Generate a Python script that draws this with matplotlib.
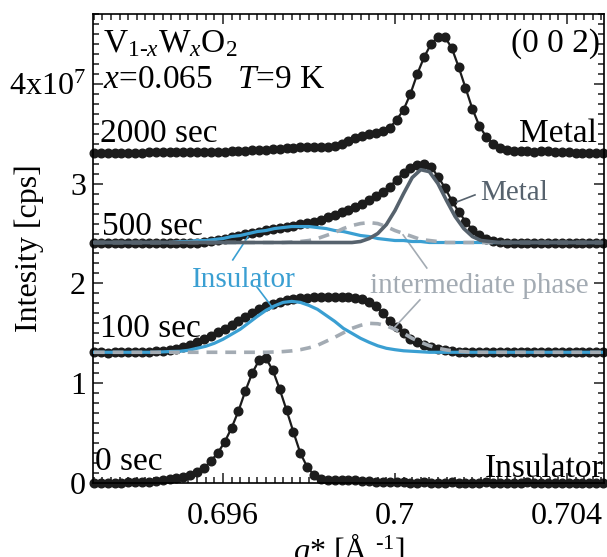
import numpy as np
import matplotlib
matplotlib.use("Agg")
import matplotlib.pyplot as plt
from matplotlib.ticker import MultipleLocator, FixedLocator

plt.rcParams['font.family'] = ['Liberation Serif', 'DejaVu Serif']
plt.rcParams['mathtext.fontset'] = 'custom'
plt.rcParams['mathtext.rm'] = 'Liberation Serif'
plt.rcParams['mathtext.it'] = 'Liberation Serif:italic'

# scan grid (q*, 1/A) and measured intensities (units of 1e7 cps, offset per time)
q = np.linspace(0.6930, 0.70484, 75)

t0 = [0.00, 0.00, 0.00, 0.00, 0.00, 0.01, 0.01, 0.01, 0.01, 0.02,
      0.03, 0.04, 0.05, 0.06, 0.08, 0.11, 0.15, 0.22, 0.30, 0.41,
      0.55, 0.72, 0.92, 1.10, 1.23, 1.25, 1.13, 0.94, 0.73, 0.51,
      0.30, 0.16, 0.08, 0.04, 0.03, 0.03, 0.03, 0.03, 0.03, 0.02,
      0.02, 0.01, 0.01, 0.01, 0.01, 0.01, 0.00, 0.00, 0.01, 0.00,
      0.00, 0.00, 0.01, 0.00, 0.00, 0.00, 0.00, 0.01, 0.00, 0.00,
      0.00, 0.00, 0.00, 0.01, 0.00, 0.00, 0.00, 0.00, 0.00, 0.00,
      0.00, 0.00, 0.00, 0.00, 0.00]

t100 = [1.31, 1.31, 1.30, 1.31, 1.31, 1.31, 1.31, 1.31, 1.31, 1.32,
        1.32, 1.33, 1.34, 1.36, 1.38, 1.41, 1.44, 1.47, 1.51, 1.54,
        1.58, 1.62, 1.66, 1.70, 1.74, 1.77, 1.79, 1.81, 1.83, 1.84,
        1.85, 1.85, 1.86, 1.86, 1.86, 1.86, 1.86, 1.86, 1.85, 1.84,
        1.81, 1.77, 1.70, 1.62, 1.56, 1.50, 1.44, 1.41, 1.38, 1.36,
        1.34, 1.33, 1.32, 1.31, 1.31, 1.31, 1.31, 1.31, 1.31, 1.31,
        1.31, 1.31, 1.31, 1.31, 1.31, 1.31, 1.31, 1.31, 1.31, 1.31,
        1.31, 1.31, 1.31, 1.31, 1.31]

t500 = [2.41, 2.41, 2.41, 2.41, 2.41, 2.41, 2.41, 2.41, 2.41, 2.41,
        2.41, 2.41, 2.41, 2.41, 2.41, 2.41, 2.42, 2.43, 2.44, 2.45,
        2.47, 2.48, 2.50, 2.51, 2.52, 2.54, 2.55, 2.56, 2.57, 2.58,
        2.60, 2.61, 2.62, 2.64, 2.67, 2.69, 2.72, 2.74, 2.77, 2.80,
        2.84, 2.88, 2.92, 2.97, 3.04, 3.11, 3.16, 3.19, 3.20, 3.17,
        3.07, 2.96, 2.83, 2.72, 2.62, 2.54, 2.49, 2.45, 2.43, 2.42,
        2.41, 2.41, 2.41, 2.41, 2.41, 2.41, 2.41, 2.41, 2.41, 2.41,
        2.41, 2.41, 2.41, 2.41, 2.41]

t2000 = [3.31, 3.31, 3.31, 3.31, 3.31, 3.31, 3.31, 3.31, 3.32, 3.32,
         3.32, 3.32, 3.32, 3.32, 3.32, 3.32, 3.32, 3.32, 3.32, 3.32,
         3.33, 3.33, 3.33, 3.34, 3.34, 3.34, 3.35, 3.35, 3.36, 3.36,
         3.37, 3.37, 3.37, 3.37, 3.37, 3.38, 3.40, 3.43, 3.46, 3.48,
         3.50, 3.51, 3.53, 3.56, 3.64, 3.74, 3.90, 4.10, 4.27, 4.40,
         4.47, 4.47, 4.36, 4.17, 3.96, 3.75, 3.58, 3.47, 3.40, 3.36,
         3.34, 3.33, 3.33, 3.33, 3.32, 3.33, 3.33, 3.32, 3.32, 3.32,
         3.31, 3.31, 3.31, 3.31, 3.31]

# fitted components on a coarser grid
qf = np.linspace(0.6930, 0.7048, 60)

metal500 = [2.41, 2.41, 2.41, 2.41, 2.41, 2.41, 2.41, 2.41, 2.41, 2.41,
            2.41, 2.41, 2.41, 2.41, 2.41, 2.41, 2.41, 2.41, 2.41, 2.41,
            2.41, 2.41, 2.41, 2.41, 2.41, 2.41, 2.41, 2.41, 2.41, 2.41,
            2.41, 2.42, 2.45, 2.50, 2.59, 2.73, 2.90, 3.06, 3.14, 3.12,
            3.00, 2.83, 2.67, 2.55, 2.47, 2.43, 2.42, 2.41, 2.41, 2.41,
            2.41, 2.41, 2.41, 2.41, 2.41, 2.41, 2.41, 2.41, 2.41, 2.41]

ins500 = [2.41, 2.41, 2.41, 2.41, 2.41, 2.41, 2.41, 2.41, 2.41, 2.41,
          2.42, 2.42, 2.43, 2.43, 2.44, 2.45, 2.47, 2.48, 2.50, 2.52,
          2.53, 2.55, 2.56, 2.57, 2.57, 2.57, 2.56, 2.55, 2.53, 2.52,
          2.50, 2.48, 2.47, 2.45, 2.44, 2.43, 2.43, 2.42, 2.42, 2.41,
          2.41, 2.41, 2.41, 2.41, 2.41, 2.41, 2.41, 2.41, 2.41, 2.41,
          2.41, 2.41, 2.41, 2.41, 2.41, 2.41, 2.41, 2.41, 2.41, 2.41]

mid500 = [2.41, 2.41, 2.41, 2.41, 2.41, 2.41, 2.41, 2.41, 2.41, 2.41,
          2.41, 2.41, 2.41, 2.41, 2.41, 2.41, 2.41, 2.41, 2.41, 2.41,
          2.41, 2.41, 2.41, 2.415, 2.42, 2.43, 2.45, 2.48, 2.51, 2.55,
          2.58, 2.60, 2.61, 2.60, 2.57, 2.53, 2.50, 2.47, 2.44, 2.43,
          2.42, 2.41, 2.41, 2.41, 2.41, 2.41, 2.41, 2.41, 2.41, 2.41,
          2.41, 2.41, 2.41, 2.41, 2.41, 2.41, 2.41, 2.41, 2.41, 2.41]

ins100 = [1.31, 1.31, 1.31, 1.31, 1.31, 1.31, 1.31, 1.31, 1.314, 1.318,
          1.32, 1.33, 1.35, 1.37, 1.40, 1.44, 1.49, 1.54, 1.605, 1.67,
          1.73, 1.775, 1.81, 1.82, 1.81, 1.78, 1.74, 1.68, 1.62, 1.55,
          1.50, 1.45, 1.41, 1.375, 1.35, 1.336, 1.325, 1.32, 1.315, 1.31,
          1.31, 1.31, 1.31, 1.31, 1.31, 1.31, 1.31, 1.31, 1.31, 1.31,
          1.31, 1.31, 1.31, 1.31, 1.31, 1.31, 1.31, 1.31, 1.31, 1.31]

mid100 = [1.31, 1.31, 1.31, 1.31, 1.31, 1.31, 1.31, 1.31, 1.31, 1.31,
          1.31, 1.31, 1.31, 1.31, 1.31, 1.31, 1.31, 1.31, 1.31, 1.31,
          1.31, 1.313, 1.317, 1.324, 1.336, 1.355, 1.38, 1.42, 1.46, 1.505,
          1.55, 1.58, 1.60, 1.596, 1.576, 1.54, 1.50, 1.45, 1.41, 1.376,
          1.35, 1.333, 1.322, 1.316, 1.31, 1.31, 1.31, 1.31, 1.31, 1.31,
          1.31, 1.31, 1.31, 1.31, 1.31, 1.31, 1.31, 1.31, 1.31, 1.31]

times = ['0 sec', '100 sec', '500 sec', '2000 sec']

c_dot = '#1c1c1c'
c_ins = '#3a9fd2'
c_met = '#56626d'
c_mid = '#a3abb3'

fig = plt.figure(figsize=(6.07, 5.57), dpi=100)
ax = fig.add_axes([93/607, 1-483/557, 511/607, 469/557])

for y in [t0, t100, t500, t2000]:
    ax.plot(q, y, '-o', color=c_dot, lw=1.6, ms=6.2, mec=c_dot, clip_on=False, zorder=2)

ax.plot(qf, ins100, color=c_ins, lw=2.3, zorder=3)
ax.plot(qf, mid100, color=c_mid, lw=2.6, ls=(0, (3, 2.2)), zorder=4)
ax.plot(qf, ins500, color=c_ins, lw=2.3, zorder=3)
ax.plot(qf, mid500, color=c_mid, lw=2.6, ls=(0, (3, 2.2)), zorder=4)
ax.plot(qf, metal500, color=c_met, lw=2.6, zorder=5)

ax.set_xlim(0.69298, 0.70486)
ax.set_ylim(0, 4.70)

ax.xaxis.set_major_locator(FixedLocator([0.696, 0.7, 0.704]))
ax.set_xticklabels(['0.696', '0.7', '0.704'])
ax.xaxis.set_minor_locator(MultipleLocator(0.0002))
ax.yaxis.set_major_locator(FixedLocator([0, 1, 2, 3, 4]))
ax.set_yticklabels(['0', '1', '2', '3', '4x10$^7$'])
ax.yaxis.set_minor_locator(MultipleLocator(0.1))

ax.tick_params(which='both', direction='in', top=True, right=True, width=1.1, color='#1c1c1c')
ax.tick_params(which='major', length=7, labelsize=23, pad=5)
ax.tick_params(which='minor', length=4.5)
ax.tick_params(axis='x', which='major', pad=14)
for s in ax.spines.values():
    s.set_linewidth(1.2)

ax.set_ylabel('Intesity [cps]', fontsize=23)
ax.yaxis.set_label_coords(-0.095, 0.5)
ax.set_xlabel(r'$q$* [Å $^{\text{-}1}$]', fontsize=23, labelpad=0)

fs = 24
ax.text(0.69314, 3.42, times[3], fontsize=fs)
ax.text(0.69319, 2.49, times[2], fontsize=fs)
ax.text(0.69314, 1.46, times[1], fontsize=fs)
ax.text(0.69302, 0.13, times[0], fontsize=fs)
ax.text(0.70470, 3.42, 'Metal', fontsize=fs, ha='right')
ax.text(0.70484, 0.06, 'Insulator', fontsize=fs, ha='right')
ax.text(0.70477, 4.32, '(0 0 2)', fontsize=fs, ha='right')
ax.text(0.69321, 4.32, r'V$_{1\text{-}x}$W$_x$O$_2$', fontsize=fs)
ax.text(0.69321, 3.96, r'$x$=0.065   $T$=9 K', fontsize=fs)

fc = 21
ax.text(0.70198, 2.84, 'Metal', fontsize=fc, color=c_met)
ax.plot([0.70186, 0.70144], [2.887, 2.817], color=c_met, lw=1.2)
ax.text(0.69528, 1.965, 'Insulator', fontsize=fc, color=c_ins)
ax.plot([0.69623, 0.69658], [2.236, 2.466], color=c_ins, lw=1.2)
ax.plot([0.69679, 0.69716], [1.965, 1.754], color=c_ins, lw=1.2)
ax.text(0.69942, 1.905, 'intermediate phase', fontsize=fc, color=c_mid)
ax.plot([0.70074, 0.70019], [2.155, 2.486], color=c_mid, lw=1.2)
ax.plot([0.70058, 0.70000], [1.835, 1.564], color=c_mid, lw=1.2)

fig.savefig('out.png', dpi=100)
